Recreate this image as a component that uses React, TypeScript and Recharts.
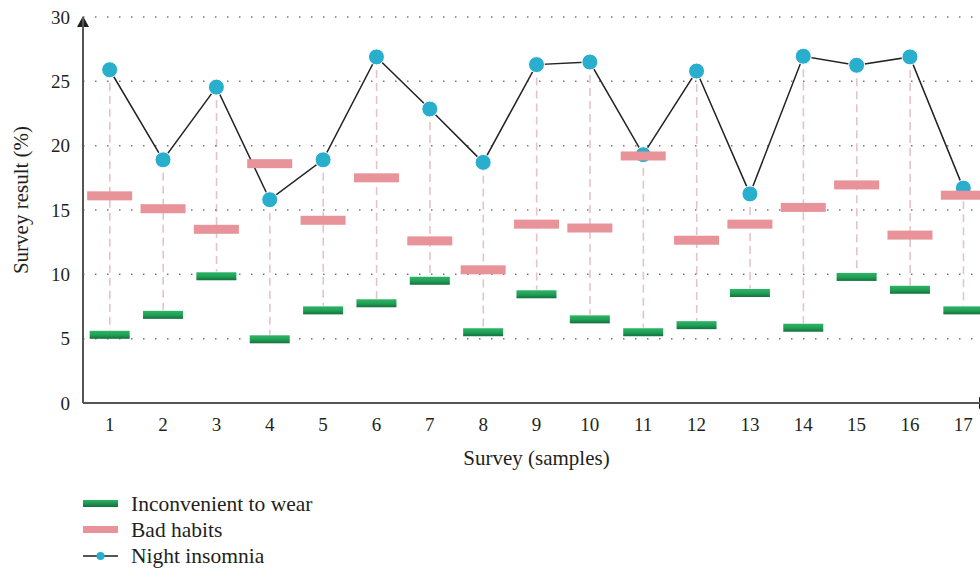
import * as R from 'recharts'
import { Bar, ComposedChart, Line, XAxis, YAxis, ReferenceLine } from 'recharts'

const SAMPLES = ['1', '2', '3', '4', '5', '6', '7', '8', '9', '10', '11', '12', '13', '14', '15', '16', '17']
const INCONVENIENT = [5.3, 6.85, 9.85, 4.95, 7.2, 7.75, 9.5, 5.5, 8.45, 6.5, 5.5, 6.05, 8.55, 5.85, 9.8, 8.8, 7.2]
const BAD_HABITS = [16.1, 15.1, 13.5, 18.6, 14.2, 17.5, 12.6, 10.35, 13.9, 13.6, 19.2, 12.65, 13.9, 15.2, 16.95, 13.05, 16.15]
const INSOMNIA = [25.9, 18.9, 24.55, 15.8, 18.9, 26.9, 22.85, 18.7, 26.3, 26.5, 19.3, 25.8, 16.25, 26.95, 26.25, 26.9, 16.7]
const Y_TICKS = [0, 5, 10, 15, 20, 25, 30]

const data = SAMPLES.map((s, i) => ({
  sample: s,
  wear: INCONVENIENT[i],
  habits: BAD_HABITS[i],
  insomnia: INSOMNIA[i],
  stem: [INCONVENIENT[i] + 0.35, INSOMNIA[i]],
}))

const FONT = '"Liberation Serif", "DejaVu Serif", serif'
const INK = '#231f20'
const AXIS = '#555'
const PINK = '#e8929a'
const CYAN = '#29afcd'

function Stem(props: any) {
  const { x, y, width, height } = props
  if (x == null || y == null) return null
  const cx = x + width / 2
  const top = Math.min(y, y + height)
  const bottom = Math.max(y, y + height)
  return <line x1={cx} x2={cx} y1={top} y2={bottom} stroke="#e6c3c8" strokeWidth={1.6} strokeDasharray="8 5" />
}

function GreenBar(props: any) {
  const { cx, cy } = props
  if (cx == null || cy == null) return null
  return <rect x={cx - 20} y={cy - 4} width={40} height={8} fill="url(#greenGrad)" />
}

function PinkBar(props: any) {
  const { cx, cy } = props
  if (cx == null || cy == null) return null
  return <rect x={cx - 22.5} y={cy - 4.5} width={45} height={9} fill={PINK} />
}

function Dot(props: any) {
  const { cx, cy } = props
  if (cx == null || cy == null) return null
  return <circle cx={cx} cy={cy} r={8} fill={CYAN} stroke="#fff" strokeWidth={1} />
}

// arrow heads on the two axes
function Arrows() {
  const hook = (R as any).usePlotArea || (R as any).useOffset
  const area = hook ? hook() : null
  if (!area) return null
  const left = area.x ?? area.left
  const top = area.y ?? area.top
  const bottom = area.height != null && area.y != null ? area.y + area.height : 403
  const right = area.width != null && area.x != null ? area.x + area.width : 990
  return (
    <g>
      <polygon points={`${left - 6},${top + 10} ${left + 6},${top + 10} ${left},${top - 1}`} fill={INK} />
      <polygon points={`${right - 11},${bottom - 6} ${right - 11},${bottom + 6} ${right},${bottom}`} fill={INK} />
    </g>
  )
}

function LegendBox() {
  const row = { display: 'flex', alignItems: 'center', height: 26 } as const
  const label = { marginLeft: 13, fontSize: 21.5, color: INK, fontFamily: FONT, lineHeight: '26px' } as const
  return (
    <div style={{ position: 'absolute', left: 83, top: 491 }}>
      <div style={row}>
        <svg width={35} height={8}>
          <defs>
            <linearGradient id="greenGradL" x1="0" y1="0" x2="0" y2="1">
              <stop offset="0" stopColor="#2bb565" />
              <stop offset="1" stopColor="#14703c" />
            </linearGradient>
          </defs>
          <rect x={0} y={0} width={35} height={7} fill="url(#greenGradL)" />
        </svg>
        <span style={label}>Inconvenient to wear</span>
      </div>
      <div style={row}>
        <svg width={35} height={8}>
          <rect x={0} y={0} width={35} height={7} fill={PINK} />
        </svg>
        <span style={label}>Bad habits</span>
      </div>
      <div style={row}>
        <svg width={35} height={10}>
          <line x1={0} x2={35} y1={5} y2={5} stroke="#555" strokeWidth={2} />
          <circle cx={17.5} cy={5} r={4} fill={CYAN} />
        </svg>
        <span style={label}>Night insomnia</span>
      </div>
    </div>
  )
}

export default function App() {
  return (
    <div style={{ position: 'absolute', left: 0, top: 0, width: 980, height: 572, overflow: 'hidden', background: '#fff' }}>
      <ComposedChart width={1000} height={572} data={data} margin={{ top: 17, right: 10, bottom: 119, left: 0 }}>
        <defs>
          <linearGradient id="greenGrad" x1="0" y1="0" x2="0" y2="1">
            <stop offset="0" stopColor="#2bb565" />
            <stop offset="0.5" stopColor="#21a158" />
            <stop offset="1" stopColor="#14703c" />
          </linearGradient>
        </defs>
        {Y_TICKS.slice(1).map((t) => (
          <ReferenceLine key={t} y={t} stroke="#777" strokeWidth={1.5} strokeDasharray="1.5 10.5" />
        ))}
        <XAxis
          dataKey="sample"
          height={50}
          tickLine={false}
          tickSize={0}
          tickMargin={15}
          axisLine={{ stroke: AXIS, strokeWidth: 2 }}
          tick={{ fill: INK, fontSize: 19, fontFamily: FONT }}
          label={{ value: 'Survey (samples)', position: 'insideBottom', offset: -12, fill: INK, fontSize: 21, fontFamily: FONT }}
        />
        <YAxis
          width={83}
          domain={[0, 30]}
          ticks={Y_TICKS}
          tickLine={false}
          tickSize={0}
          tickMargin={13}
          axisLine={{ stroke: AXIS, strokeWidth: 2 }}
          tick={{ fill: INK, fontSize: 19, fontFamily: FONT }}
          label={{ value: 'Survey result (%)', angle: -90, position: 'insideLeft', offset: 21, dy: -10, fill: INK, fontSize: 21, fontFamily: FONT, style: { textAnchor: 'middle' } }}
        />
        <Line dataKey="insomnia" stroke="#222" strokeWidth={1.5} dot={<Dot />} activeDot={false} isAnimationActive={false} />
        <Bar dataKey="stem" shape={<Stem />} isAnimationActive={false} />
        <Line dataKey="habits" stroke="none" dot={<PinkBar />} activeDot={false} isAnimationActive={false} />
        <Line dataKey="wear" stroke="none" dot={<GreenBar />} activeDot={false} isAnimationActive={false} />
        <Arrows />
      </ComposedChart>
      <LegendBox />
    </div>
  )
}
